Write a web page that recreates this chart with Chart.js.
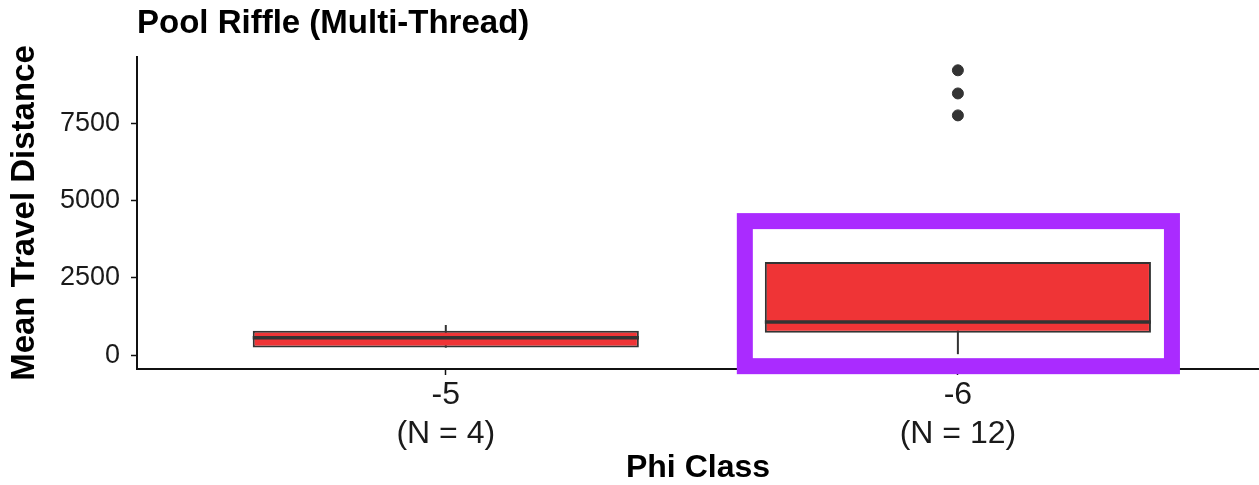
<!DOCTYPE html>
<html>
<head>
<meta charset="utf-8">
<script src="https://cdn.jsdelivr.net/npm/chart.js@4"></script>
<style>
  html, body { margin: 0; padding: 0; background: #fff; }
  #wrap { width: 1259px; height: 485px; }
</style>
</head>
<body>
<div id="wrap"><canvas id="grafico"></canvas></div>
<script>
// ===================== DADOS =====================

const phiClasses = ["-5", "-6"];
const sampleSizes = [4, 12];
const whiskerLow = [240, 30];
const q1 = [250, 720];
const medians = [565, 1070];
const q3 = [790, 3010];
const whiskerHigh = [975, 3010];
const outliersByClass = [[], [7760, 8470, 9220]];
const yTicks = [0, 2500, 5000, 7500];

// ===================== ESTILO =====================

const BOX_WIDTH = 0.754;
const FILL = "#EF3436";
const DARK = "#333333";
const AXIS = "#111111";
const FONT = "'Liberation Sans', Arial, sans-serif";

// ===================== DATASETS =====================

const positions = phiClasses.map((c, i) => i + 1);

const medianSets = positions.map((x, i) => ({
  type: "line",
  data: [
    { x: x - BOX_WIDTH / 2, y: medians[i] },
    { x: x + BOX_WIDTH / 2, y: medians[i] },
  ],
  borderColor: DARK,
  borderWidth: 3.5,
  pointRadius: 0,
  order: 0,
}));

const boxSet = {
  type: "bar",
  data: positions.map((x, i) => ({ x: x, y: [q1[i], q3[i]] })),
  backgroundColor: FILL,
  borderColor: DARK,
  borderWidth: 2,
  borderSkipped: false,
  barPercentage: BOX_WIDTH,
  categoryPercentage: 1,
  order: 1,
};

const whiskerSets = positions.map((x, i) => ({
  type: "line",
  data: [
    { x: x, y: whiskerLow[i] },
    { x: x, y: whiskerHigh[i] },
  ],
  borderColor: DARK,
  borderWidth: 2,
  pointRadius: 0,
  order: 2,
}));

const outlierSet = {
  type: "scatter",
  data: positions.flatMap((x, i) => outliersByClass[i].map((v) => ({ x: x, y: v }))),
  backgroundColor: DARK,
  borderColor: DARK,
  pointRadius: 5.5,
  order: 0,
};

// ===================== DESTAQUE =====================

const highlightBox = {
  id: "highlightBox",
  afterDraw(chart) {
    const xs = chart.scales.x;
    const ys = chart.scales.y;
    const i = 1;
    const left = xs.getPixelForValue(positions[i] - BOX_WIDTH / 2) - 20;
    const right = xs.getPixelForValue(positions[i] + BOX_WIDTH / 2) + 21;
    const top = ys.getPixelForValue(q3[i]) - 41;
    const bottom = ys.getPixelForValue(whiskerLow[i]) + 12;
    const ctx = chart.ctx;
    ctx.save();
    ctx.strokeStyle = "#AA2BFF";
    ctx.lineWidth = 16;
    ctx.strokeRect(left, top, right - left, bottom - top);
    ctx.restore();
  },
};

// ===================== GRAFICO =====================

new Chart(document.getElementById("grafico"), {
  type: "bar",
  data: {
    datasets: [...medianSets, boxSet, ...whiskerSets, outlierSet],
  },
  options: {
    responsive: true,
    maintainAspectRatio: false,
    animation: false,
    layout: {
      autoPadding: false,
      padding: { top: 0, left: 4, right: 0, bottom: 0 },
    },
    plugins: {
      legend: { display: false },
      tooltip: { enabled: false },
      title: {
        display: true,
        text: "Pool Riffle (Multi-Thread)",
        align: "start",
        fullSize: false,
        color: "#000",
        font: { family: FONT, size: 33, weight: "bold", lineHeight: 1.2 },
        padding: { top: 4, bottom: 13.4 },
      },
    },
    scales: {
      x: {
        type: "linear",
        min: 0.397,
        max: 2.588,
        offset: false,
        afterBuildTicks: (s) => {
          s.ticks = positions.map((v) => ({ value: v }));
        },
        afterFit: (s) => {
          s.height = 116;
          s.paddingLeft = 0;
          s.paddingRight = 0;
        },
        ticks: {
          color: "#1a1a1a",
          font: { family: FONT, size: 32, lineHeight: 1.22 },
          padding: 1,
          maxRotation: 0,
          callback: (v) => {
            const i = positions.indexOf(v);
            return [phiClasses[i], "(N = " + sampleSizes[i] + ")"];
          },
        },
        grid: {
          offset: false,
          drawOnChartArea: false,
          drawTicks: true,
          tickLength: 6,
          tickWidth: 1.5,
          tickColor: AXIS,
        },
        border: { display: true, color: AXIS, width: 2 },
        title: {
          display: true,
          text: "Phi Class",
          color: "#000",
          font: { family: FONT, size: 32, weight: "bold", lineHeight: 1.05 },
          padding: { top: 0, bottom: 0 },
        },
      },
      y: {
        type: "linear",
        min: -450,
        max: 9650,
        afterBuildTicks: (s) => {
          s.ticks = yTicks.map((v) => ({ value: v }));
        },
        afterFit: (s) => {
          s.width = 133;
        },
        ticks: {
          color: "#1a1a1a",
          font: { family: FONT, size: 27 },
          padding: 11,
          callback: (v) => String(v),
        },
        grid: {
          drawOnChartArea: false,
          drawTicks: true,
          tickLength: 6,
          tickWidth: 1.5,
          tickColor: AXIS,
        },
        border: { display: true, color: AXIS, width: 2 },
        title: {
          display: true,
          text: "Mean Travel Distance",
          color: "#000",
          font: { family: FONT, size: 33, weight: "bold", lineHeight: 1.2 },
          padding: { top: 1, bottom: 0 },
        },
      },
    },
  },
  plugins: [highlightBox],
});
</script>
</body>
</html>
